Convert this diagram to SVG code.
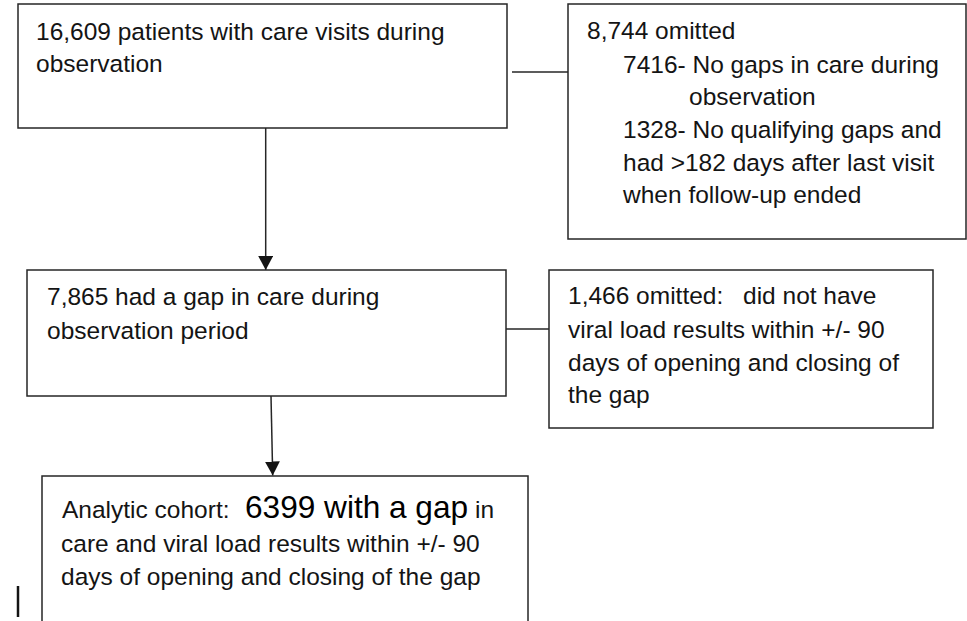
<svg xmlns="http://www.w3.org/2000/svg" width="967" height="621" viewBox="0 0 967 621">
  <defs>
    <style>
      .box { fill: #ffffff; stroke: #262626; stroke-width: 1.5; }
      .conn { fill: none; stroke: #262626; stroke-width: 1.5; }
      .t { font-family: "Liberation Sans", Arial, sans-serif; font-size: 24.5px; fill: #141414; }
      .big { font-size: 31.6px; fill: #000000; }
    </style>
    <marker id="arrow" viewBox="0 0 14 15" refX="14" refY="7.5" markerWidth="14" markerHeight="15" markerUnits="userSpaceOnUse" orient="auto">
      <path d="M0,0 L14,7.5 L0,15 Z" fill="#141414"/>
    </marker>
  </defs>
  <rect width="967" height="621" fill="#ffffff"/>

  <g id="connectors">
    <line class="conn" x1="512" y1="72" x2="568" y2="72"/>
    <line class="conn" x1="265.7" y1="128" x2="265.7" y2="270" marker-end="url(#arrow)"/>
    <line class="conn" x1="502" y1="329" x2="549" y2="329"/>
    <line class="conn" x1="271" y1="396" x2="272.7" y2="475.5" marker-end="url(#arrow)"/>
  </g>

  <g id="node-all-patients">
    <rect class="box" x="18" y="4" width="489" height="124"/>
    <text class="t" x="36" y="40">16,609 patients with care visits during</text>
    <text class="t" x="36" y="72">observation</text>
  </g>

  <g id="node-omitted-1">
    <rect class="box" x="568" y="4" width="398" height="235"/>
    <text class="t" x="587" y="39">8,744 omitted</text>
    <text class="t" x="623" y="73">7416- No gaps in care during</text>
    <text class="t" x="689" y="105">observation</text>
    <text class="t" x="623" y="138">1328- No qualifying gaps and</text>
    <text class="t" x="623" y="171">had &gt;182 days after last visit</text>
    <text class="t" x="623" y="203">when follow-up ended</text>
  </g>

  <g id="node-gap">
    <rect class="box" x="27" y="270" width="479" height="126"/>
    <text class="t" x="47" y="305">7,865 had a gap in care during</text>
    <text class="t" x="47" y="339">observation period</text>
  </g>

  <g id="node-omitted-2">
    <rect class="box" x="549" y="270" width="384" height="158"/>
    <text class="t" x="568" y="304">1,466 omitted:<tspan x="743">did not have</tspan></text>
    <text class="t" x="568" y="338">viral load results within +/- 90</text>
    <text class="t" x="568" y="371">days of opening and closing of</text>
    <text class="t" x="568" y="403">the gap</text>
  </g>

  <g id="node-analytic-cohort">
    <rect class="box" x="42" y="476" width="486" height="170"/>
    <text class="t" x="62" y="518">Analytic cohort:<tspan class="big" x="245">6399 with a gap</tspan><tspan x="475">in</tspan></text>
    <text class="t" x="61" y="552">care and viral load results within +/- 90</text>
    <text class="t" x="61" y="585">days of opening and closing of the gap</text>
  </g>

  <line x1="18" y1="586" x2="18" y2="617" stroke="#141414" stroke-width="2.5"/>
</svg>
